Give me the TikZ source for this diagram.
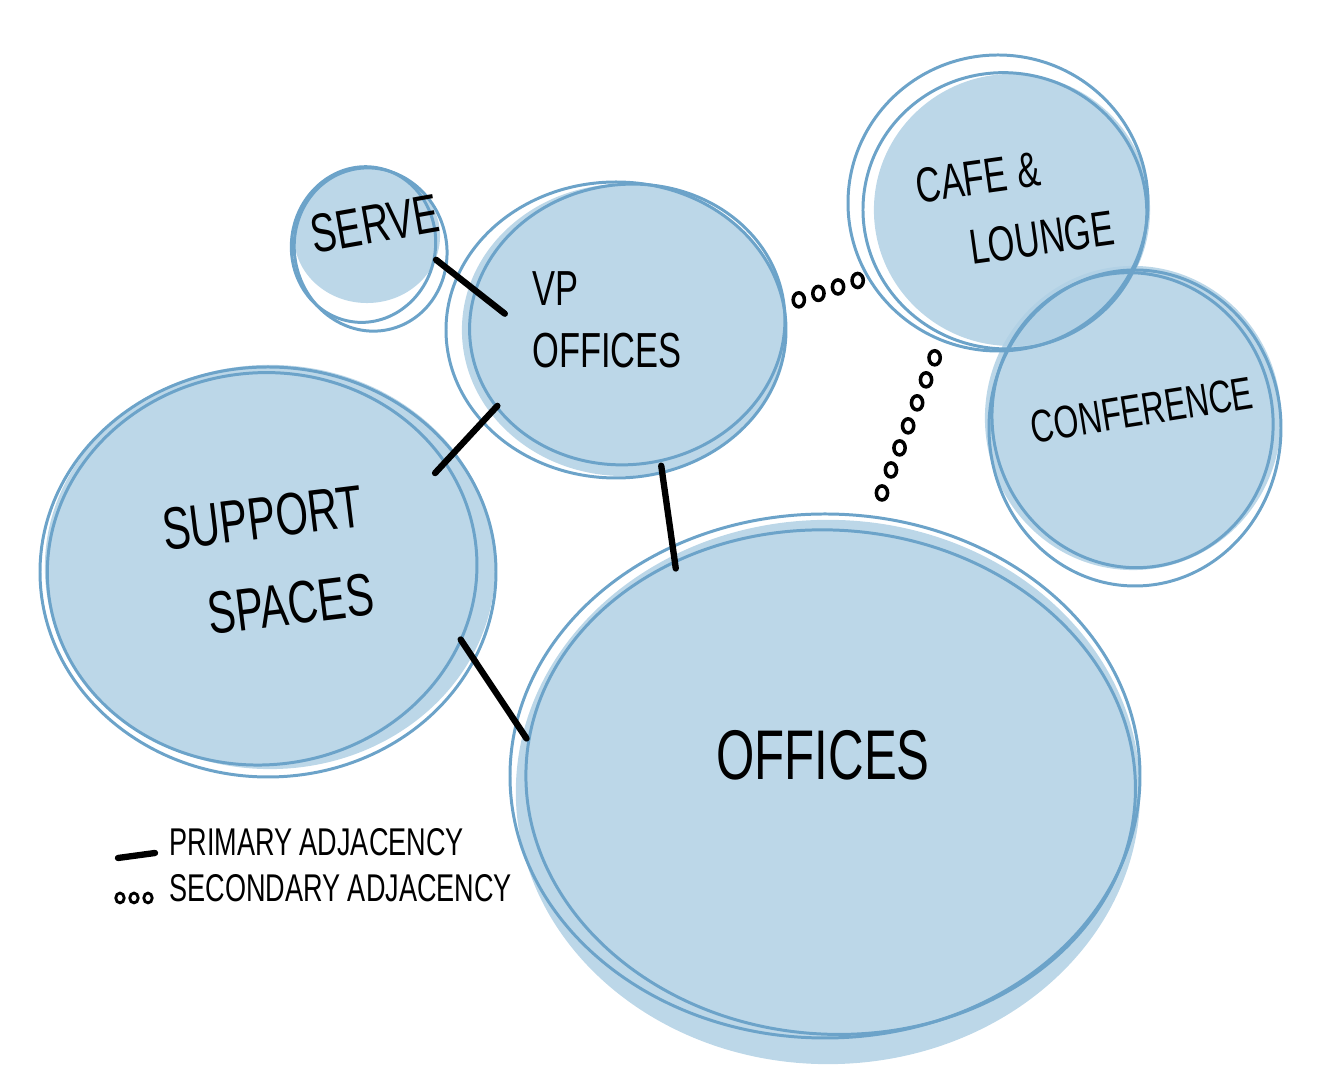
\documentclass[tikz,border=0pt]{standalone}
\usepackage{fontspec}
\setmainfont{Liberation Sans}[FakeStretch=0.7]
\usetikzlibrary{calc, shapes.geometric}

\definecolor{bubblefill}{HTML}{B0D0E4}
\definecolor{bubbleline}{HTML}{6CA3C9}

\begin{document}
\begin{tikzpicture}[
  x=0.01cm, y=-0.01cm,
  bubble/.style={ellipse, fill=bubblefill, fill opacity=0.85, inner sep=0pt},
  sketch/.style={draw=bubbleline, line width=0.85pt},
  primary/.style={line width=1.8pt, line cap=round},
  ring/.style={ellipse, draw, line width=1pt, minimum width=3.2pt, minimum height=4pt, inner sep=0pt},
  keyring/.style={ring, minimum width=2.4pt, minimum height=2.8pt, line width=0.8pt},
  label/.style={font=\fontsize{#1}{\dimexpr #1pt*5/4\relax}\selectfont, align=center},
  label/.default=15
]
\useasboundingbox (0,0) rectangle (1320,1086);

%--------------------------------------
% Bubbles (fills)
%--------------------------------------
\node[bubble, minimum width=1.46cm, minimum height=1.34cm] (serve) at (367,236) {};
\node[bubble, minimum width=3.24cm, minimum height=2.92cm] (vp) at (624,330) {};
\node[bubble, minimum width=2.76cm, minimum height=2.72cm] (cafe) at (1012,210) {};
\node[bubble, minimum width=2.96cm, minimum height=3.04cm] (conference) at (1133,418) {};
\node[bubble, minimum width=4.50cm, minimum height=4.04cm] (support) at (270,567) {};
\node[bubble, minimum width=6.24cm, minimum height=5.44cm] (offices) at (828,792) {};

%--------------------------------------
% Hand-drawn outlines
%--------------------------------------
\draw[sketch, rotate around={15:($(serve)+(0,14)$)}] ($(serve)+(0,14)$) ellipse [x radius=76, y radius=82];
\draw[sketch, rotate around={-10:($(serve)+(-2,9)$)}] ($(serve)+(-2,9)$) ellipse [x radius=72, y radius=78];

\draw[sketch] ($(vp)+(-8,0)$) ellipse [x radius=170, y radius=148];
\draw[sketch, rotate around={8:($(vp)+(4,-5)$)}] ($(vp)+(4,-5)$) ellipse [x radius=158, y radius=140];

\draw[sketch] ($(cafe)+(-14,-7)$) ellipse [x radius=150, y radius=148];
\draw[sketch, rotate around={-10:($(cafe)+(-7,2)$)}] ($(cafe)+(-7,2)$) ellipse [x radius=142, y radius=138];

\draw[sketch] ($(conference)+(2,10)$) ellipse [x radius=146, y radius=158];
\draw[sketch, rotate around={15:($(conference)+(-1,2)$)}] ($(conference)+(-1,2)$) ellipse [x radius=140, y radius=148];

\draw[sketch] ($(support)+(-2,5)$) ellipse [x radius=228, y radius=205];
\draw[sketch, rotate around={6:($(support)+(-8,1)$)}] ($(support)+(-8,1)$) ellipse [x radius=215, y radius=196];

\draw[sketch] ($(offices)+(-3,-16)$) ellipse [x radius=315, y radius=262];
\draw[sketch, rotate around={-4:($(offices)+(2,-10)$)}] ($(offices)+(2,-10)$) ellipse [x radius=305, y radius=252];

%--------------------------------------
% Labels
%--------------------------------------
\node[label=15.5, rotate=10] (serve_txt) at (375,224) {SERVE};
\node[label=14, align=left] (vp_txt) at (607,320) {VP\\OFFICES};
\node[label=14, align=left, rotate=8] (cafe_txt) at (1015,207) {CAFE \&\\[2pt]\hspace*{0.9em}LOUNGE};
\node[label=13, rotate=9] (conference_txt) at (1142,410) {CONFERENCE};
\node[label=17, align=right, rotate=7] (support_txt) at (268,562) {SUPPORT\\[4pt]SPACES};
\node[label=20] (offices_txt) at (823,755) {OFFICES};

%--------------------------------------
% Primary adjacencies
%--------------------------------------
\draw[primary, shorten >=-13pt] (serve.-19) -- (vp.164);
\draw[primary, shorten <=-3pt, shorten >=-8.5pt] (vp.212) -- (support.32);
\draw[primary, shorten <=-2pt, shorten >=-4pt] (vp.-75) -- (offices.123);
\draw[primary, shorten <=-6pt, shorten >=-2pt] (support.-24) -- (offices.169);

%--------------------------------------
% Secondary adjacencies
%--------------------------------------
\foreach \p in {0.14,0.33,0.52,0.71}
  \path (vp.9) -- (cafe.206) node[ring, pos=\p] {};
\foreach \p in {0.145,0.26,0.38,0.5,0.615,0.73,0.85}
  \path (cafe.241) -- (offices.81) node[ring, pos=\p] {};

%--------------------------------------
% Key
%--------------------------------------
\node[label=11, anchor=west] (key_primary) at (157,842) {PRIMARY ADJACENCY};
\node[label=11, anchor=west] (key_secondary) at (157,888) {SECONDARY ADJACENCY};

\coordinate (key_a) at (118,858);
\coordinate (key_b) at (155,853);
\draw[primary] (key_a) -- (key_b);

\coordinate (key_c) at (120,898);
\coordinate (key_d) at (148,898);
\foreach \p in {0,0.5,1}
  \path (key_c) -- (key_d) node[keyring, pos=\p] {};

\end{tikzpicture}
\end{document}
